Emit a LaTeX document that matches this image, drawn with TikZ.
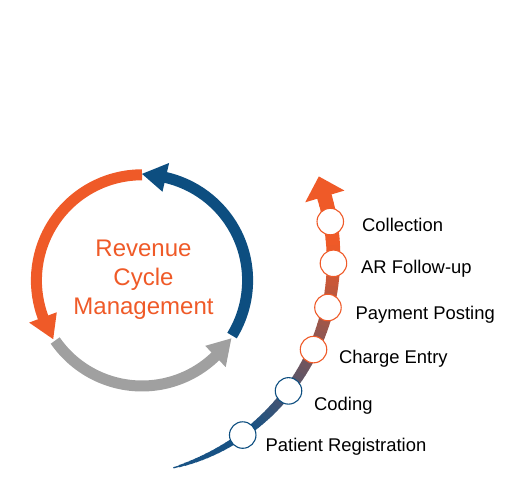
\documentclass[tikz,border=0pt]{standalone}
\usepackage{fontspec}
\setmainfont{Liberation Sans}
\usepackage{xcolor}
\definecolor{rcmorange}{RGB}{239,90,40}
\definecolor{rcmblue}{RGB}{13,78,128}
\definecolor{rcmgray}{RGB}{160,160,160}
\definecolor{flowblue}{RGB}{24,82,132}

\begin{document}
\begin{tikzpicture}[x=1bp, y=1bp]
  \tikzset{
    ringarc/.style={line width=11bp},
    stage/.style={circle, draw, fill=white, line width=1.1bp, minimum size=26.5bp, inner sep=0pt},
    stagelabel/.style={anchor=base west, inner sep=0pt, font=\fontsize{18.4bp}{21bp}\selectfont},
    title/.style={align=center, text=rcmorange, inner sep=0pt, font=\fontsize{24bp}{29bp}\selectfont}
  }
  \useasboundingbox (0,0) rectangle (514,497);

  % Revenue cycle ring: three arcs, each ending in a head
  \coordinate (ring) at (142,216.6);
  \foreach \from/\to/\col in {-31.5/77/rcmblue, 90/200.5/rcmorange, 214.7/314/rcmgray} {
    \draw[ringarc, \col] ([shift={(\from:105.6bp)}]ring) arc[start angle=\from, end angle=\to+1, radius=105.6bp];
    \fill[\col] ([shift={(\to:91bp)}]ring) -- ([shift={(\to+13:106.5bp)}]ring) -- ([shift={(\to:120.5bp)}]ring) -- cycle;
  }
  \node[title] (rcm) at (143.5,217.2) {Revenue\\Cycle\\Management};

  % Process arrow: tapering, blue to orange
  \coordinate (bend) at (117,238.2);
  \foreach \i in {0,...,59} {
    \pgfmathsetmacro{\a}{-74.9+\i*1.54}
    \pgfmathsetmacro{\w}{15*sqrt((\i+0.5)/60)}
    \pgfmathsetmacro{\p}{max(0,min(100,((\i+0.5)/60-0.25)/0.6*100))}
    \draw[line width=\w bp, rcmorange!\p!flowblue] ([shift={(\a:216.5bp)}]bend) arc[start angle=\a, end angle=\a+1.7, radius=216.5bp];
  }
  \fill[rcmorange] ([shift={(16.7:196.5bp)}]bend) -- ([shift={(22.2:218bp)}]bend) -- ([shift={(16.7:237.5bp)}]bend) -- cycle;

  % Stages on the arrow
  \foreach \n/\a/\c in {reg/-54.5/rcmblue, cod/-37.6/rcmblue, chg/-24.8/rcmorange,
                        pay/-13/rcmorange, arf/-1.2/rcmorange, col/9.9/rcmorange}
    \node[stage, draw=\c] (\n) at ([shift={(\a:216.5bp)}]bend) {};

  \node[stagelabel] (regtext) at (265.5,45.3)  {Patient Registration};
  \node[stagelabel] (codtext) at (314,86.3)    {Coding};
  \node[stagelabel] (chgtext) at (339,133.7)   {Charge Entry};
  \node[stagelabel] (paytext) at (355.5,177.7) {Payment Posting};
  \node[stagelabel] (arftext) at (361,223)     {AR Follow-up};
  \node[stagelabel] (coltext) at (362,265.3)   {Collection};
\end{tikzpicture}
\end{document}
